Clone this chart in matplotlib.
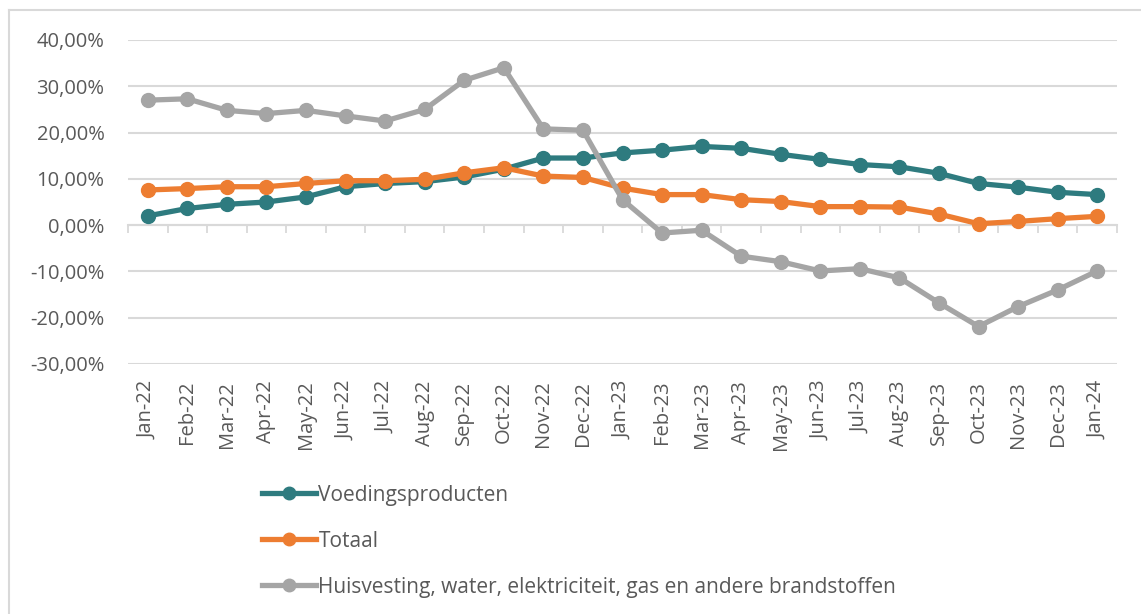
import matplotlib
matplotlib.use('Agg')
import matplotlib.pyplot as plt
from matplotlib.ticker import FuncFormatter
from matplotlib.lines import Line2D

# data (%)
maanden = ['Jan-22', 'Feb-22', 'Mar-22', 'Apr-22', 'May-22', 'Jun-22', 'Jul-22', 'Aug-22',
           'Sep-22', 'Oct-22', 'Nov-22', 'Dec-22', 'Jan-23', 'Feb-23', 'Mar-23', 'Apr-23',
           'May-23', 'Jun-23', 'Jul-23', 'Aug-23', 'Sep-23', 'Oct-23', 'Nov-23', 'Dec-23', 'Jan-24']
voeding = [2.0, 3.6, 4.5, 5.0, 6.1, 8.3, 9.0, 9.4, 10.4, 12.1, 14.5, 14.5, 15.6,
           16.2, 17.0, 16.6, 15.3, 14.2, 13.1, 12.6, 11.2, 9.0, 8.2, 7.1, 6.6]
totaal = [7.6, 7.9, 8.3, 8.3, 9.0, 9.6, 9.6, 9.9, 11.3, 12.4, 10.6, 10.3, 8.0,
          6.6, 6.6, 5.5, 5.1, 4.0, 4.0, 3.9, 2.4, 0.3, 0.8, 1.4, 1.9]
huisvesting = [27.0, 27.3, 24.8, 24.1, 24.8, 23.6, 22.5, 25.0, 31.3, 34.0, 20.8, 20.5, 5.5,
               -1.7, -1.1, -6.7, -7.9, -9.9, -9.4, -11.4, -16.8, -21.9, -17.6, -14.0, -9.9]
reeksen = ['Voedingsproducten', 'Totaal', 'Huisvesting, water, elektriciteit, gas en andere brandstoffen']
kleuren = ['#2e7b7f', '#ed7d31', '#a5a5a5']

plt.rcParams['font.family'] = ['Open Sans', 'DejaVu Sans']

fig = plt.figure(figsize=(11.41, 6.14), dpi=100)
ax = fig.add_axes([128 / 1141, 1 - 364 / 614, (1117 - 128) / 1141, (364 - 40) / 614])

x = list(range(len(maanden)))
for waarden, naam, kleur in zip([voeding, totaal, huisvesting], reeksen, kleuren):
    ax.plot(x, waarden, color=kleur, lw=3.8, marker='o', ms=10, label=naam,
            solid_capstyle='round', solid_joinstyle='round')

ymin, ymax = -30, 40
ax.set_ylim(ymin, ymax)
ax.set_xlim(-0.5, len(maanden) - 0.5)
ax.set_yticks(range(ymin, ymax + 1, 10))
ax.yaxis.set_major_formatter(FuncFormatter(lambda v, p: f'{v:.2f}'.replace('.', ',') + '%'))
ax.grid(axis='y', color='#d9d9d9', lw=1.5)
ax.set_axisbelow(True)
for s in ax.spines.values():
    s.set_visible(False)

ax.set_xticks(x)
ax.set_xticklabels(maanden, rotation=90)
ax.tick_params(axis='x', length=0, pad=12, labelsize=14.5, labelcolor='#595959')
ax.tick_params(axis='y', length=0, pad=17, labelsize=14.5, labelcolor='#595959')

# category axis crossing at 0
nul = (0 - ymin) / (ymax - ymin)
sec = ax.secondary_xaxis(nul)
sec.set_xticks([i - 0.5 for i in range(len(maanden) + 1)])
sec.set_xticklabels([])
sec.tick_params(axis='x', length=6, width=1.3, color='#d9d9d9', direction='out')
sec.spines['bottom'].set_color('#d9d9d9')
sec.spines['bottom'].set_linewidth(1.5)

handles = [Line2D([], [], color=k, lw=3.8, marker='o', ms=9) for k in kleuren]
fig.legend(handles, reeksen, loc='upper left', bbox_to_anchor=(243 / 1141, 1 - 466 / 614),
           frameon=False, fontsize=15, labelcolor='#595959', handlelength=2.6,
           handletextpad=0.12, labelspacing=1.2)

# chart border (top and left)
fig.add_artist(Line2D([9 / 1141, 9 / 1141], [0, 1 - 10 / 614], transform=fig.transFigure,
                      color='#d9d9d9', lw=1.5))
fig.add_artist(Line2D([9 / 1141, 1], [1 - 10 / 614, 1 - 10 / 614], transform=fig.transFigure,
                      color='#d9d9d9', lw=1.5))

fig.savefig('out.png', dpi=100)
